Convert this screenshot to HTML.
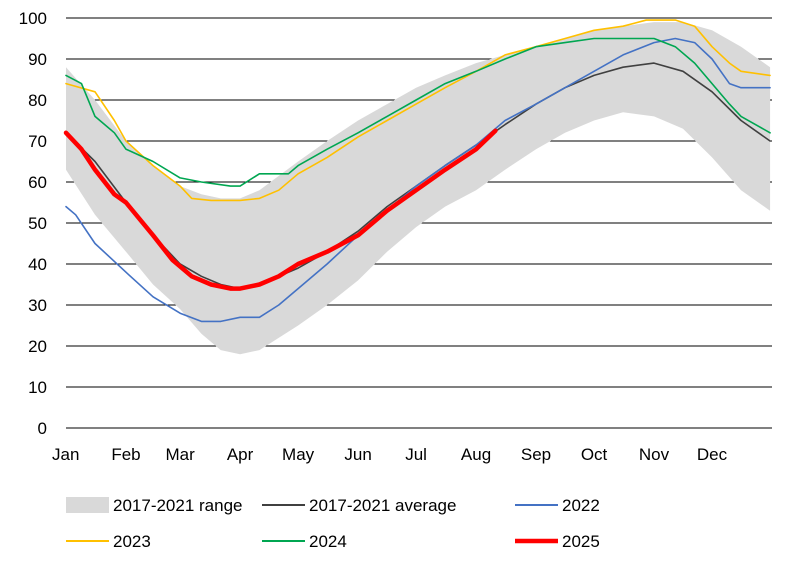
<!DOCTYPE html>
<html><head><meta charset="utf-8"><style>
body{margin:0;background:#fff;font-family:"Liberation Sans",sans-serif}
svg text{font-family:"Liberation Sans",sans-serif;font-size:17px;fill:#000}
</style></head><body>
<svg id="chart" width="796" height="569" xmlns="http://www.w3.org/2000/svg">
<g id="grid"></g><g id="series"></g><g id="axes"></g><g id="legend"></g>
</svg>
<script>
const months=["Jan","Feb","Mar","Apr","May","Jun","Jul","Aug","Sep","Oct","Nov","Dec"];
const monthDays=[0,31,59,90,120,151,181,212,243,273,304,334];
const yTicks=[0,10,20,30,40,50,60,70,80,90,100];
const rangeDays=[0,15,31,45,59,70,80,90,100,120,135,151,166,181,196,212,227,243,258,273,288,304,319,334,349,364];
const rangeUpper=[88,80,70,64,59,57,56,56,58,65,70,75,79,83,86,89,91,93,95,97,98,99,99,97,93,88];
const rangeLower=[63,52,43,35,29,23,19,18,19,25,30,36,43,49,54,58,63,68,72,75,77,76,73,66,58,53];
const avgDays=[0,15,31,45,59,70,80,90,100,120,135,151,166,181,196,212,227,243,258,273,288,304,319,334,349,364];
const avgVals=[72,65,55,47,40,37,35,34,35,39,43,48,54,59,64,69,74,79,83,86,88,89,87,82,75,70];
const d2025=[0,8,15,25,31,45,55,65,75,85,90,100,110,120,135,151,166,181,196,212,222];
const v2025=[72,68,63,57,55,47,41,37,35,34,34,35,37,40,43,47,53,58,63,68,72.5];
const d2022=[0,5,15,31,45,59,70,80,90,100,110,120,135,151,166,181,196,212,227,243,258,273,288,304,315,325,334,343,349,364];
const v2022=[54,52,45,38,32,28,26,26,27,27,30,34,40,47,53,59,64,69,75,79,83,87,91,94,95,94,90,84,83,83];
const d2023=[0,15,25,31,45,59,65,75,85,90,100,110,120,135,151,166,181,196,212,227,243,258,273,288,300,315,325,334,343,349,364];
const v2023=[84,82,75,70,64,59,56,55.5,55.5,55.5,56,58,62,66,71,75,79,83,87,91,93,95,97,98,99.5,99.5,98,93,89,87,86];
const d2024=[0,8,15,25,31,45,59,70,85,90,100,110,115,120,135,151,166,181,196,212,227,243,258,273,288,304,315,325,334,343,349,364];
const v2024=[86,84,76,72,68,65,61,60,59,59,62,62,62,64,68,72,76,80,84,87,90,93,94,95,95,95,93,89,84,79,76,72];
const X0=66,X1=772,Y0=428,Y100=18;
const xs=d=>X0+d*(X1-X0)/365, ys=v=>Y0-v*(Y0-Y100)/100;
const NS="http://www.w3.org/2000/svg";
function mk(tag,attrs,parent){const e=document.createElementNS(NS,tag);for(const k in attrs)e.setAttribute(k,attrs[k]);parent.appendChild(e);return e;}
const grid=document.getElementById('grid'),ser=document.getElementById('series'),ax=document.getElementById('axes'),lg=document.getElementById('legend');
yTicks.forEach(t=>{
 if(t>0){const l=mk('line',{x1:X0,x2:X1,y1:ys(t),y2:ys(t),stroke:'#000','stroke-width':1},grid);
 
 }
 const tx=mk('text',{x:47,y:ys(t)+6,'text-anchor':'end'},ax);tx.textContent=t;
 
 
});
months.forEach((m,i)=>{const tx=mk('text',{x:xs(monthDays[i]),y:460,'text-anchor':i==0?'start':'middle'},ax);tx.textContent=m;
 if(i==0)tx.setAttribute('x',X0-14);
 
 });
const base=mk('line',{x1:X0,x2:X1,y1:Y0,y2:Y0,stroke:'#000','stroke-width':1},ax);


let pts=rangeDays.map((d,i)=>xs(d)+','+ys(rangeUpper[i]));
pts=pts.concat(rangeDays.map((d,i)=>xs(d)+','+ys(rangeLower[i])).reverse());
const band=mk('polygon',{points:pts.join(' '),fill:'#d9d9d9'},ser);


function line(days,vals,color,w,name){const p=mk('polyline',{points:days.map((d,i)=>xs(d)+','+ys(vals[i])).join(' '),fill:'none',stroke:color,'stroke-width':w,'stroke-linejoin':'round','stroke-linecap':'round'},ser);
 
 }
line(avgDays,avgVals,'#404040',1.6,'line-average');
line(d2022,v2022,'#4472c4',1.6,'line-2022');
line(d2023,v2023,'#ffc000',1.6,'line-2023');
line(d2024,v2024,'#00a651',1.6,'line-2024');
line(d2025,v2025,'#ff0000',4.5,'line-2025');
const L=[["2017-2021 range",66,505,'band','#d9d9d9'],["2017-2021 average",262,505,2,'#404040'],["2022",515,505,2,'#4472c4'],["2023",66,541,2,'#ffc000'],["2024",262,541,2,'#00a651'],["2025",515,541,4.5,'#ff0000']];
L.forEach(([t,x,y,w,c])=>{
 const g=mk('g',{},lg);
 
 
 if(w==='band')mk('rect',{x:x,y:y-8,width:43,height:16,fill:c},g);
 else mk('line',{x1:x,x2:x+43,y1:y,y2:y,stroke:c,'stroke-width':w},g);
 const tx=mk('text',{x:x+47,y:y+6},g);tx.textContent=t;
});
</script>
</body></html>
